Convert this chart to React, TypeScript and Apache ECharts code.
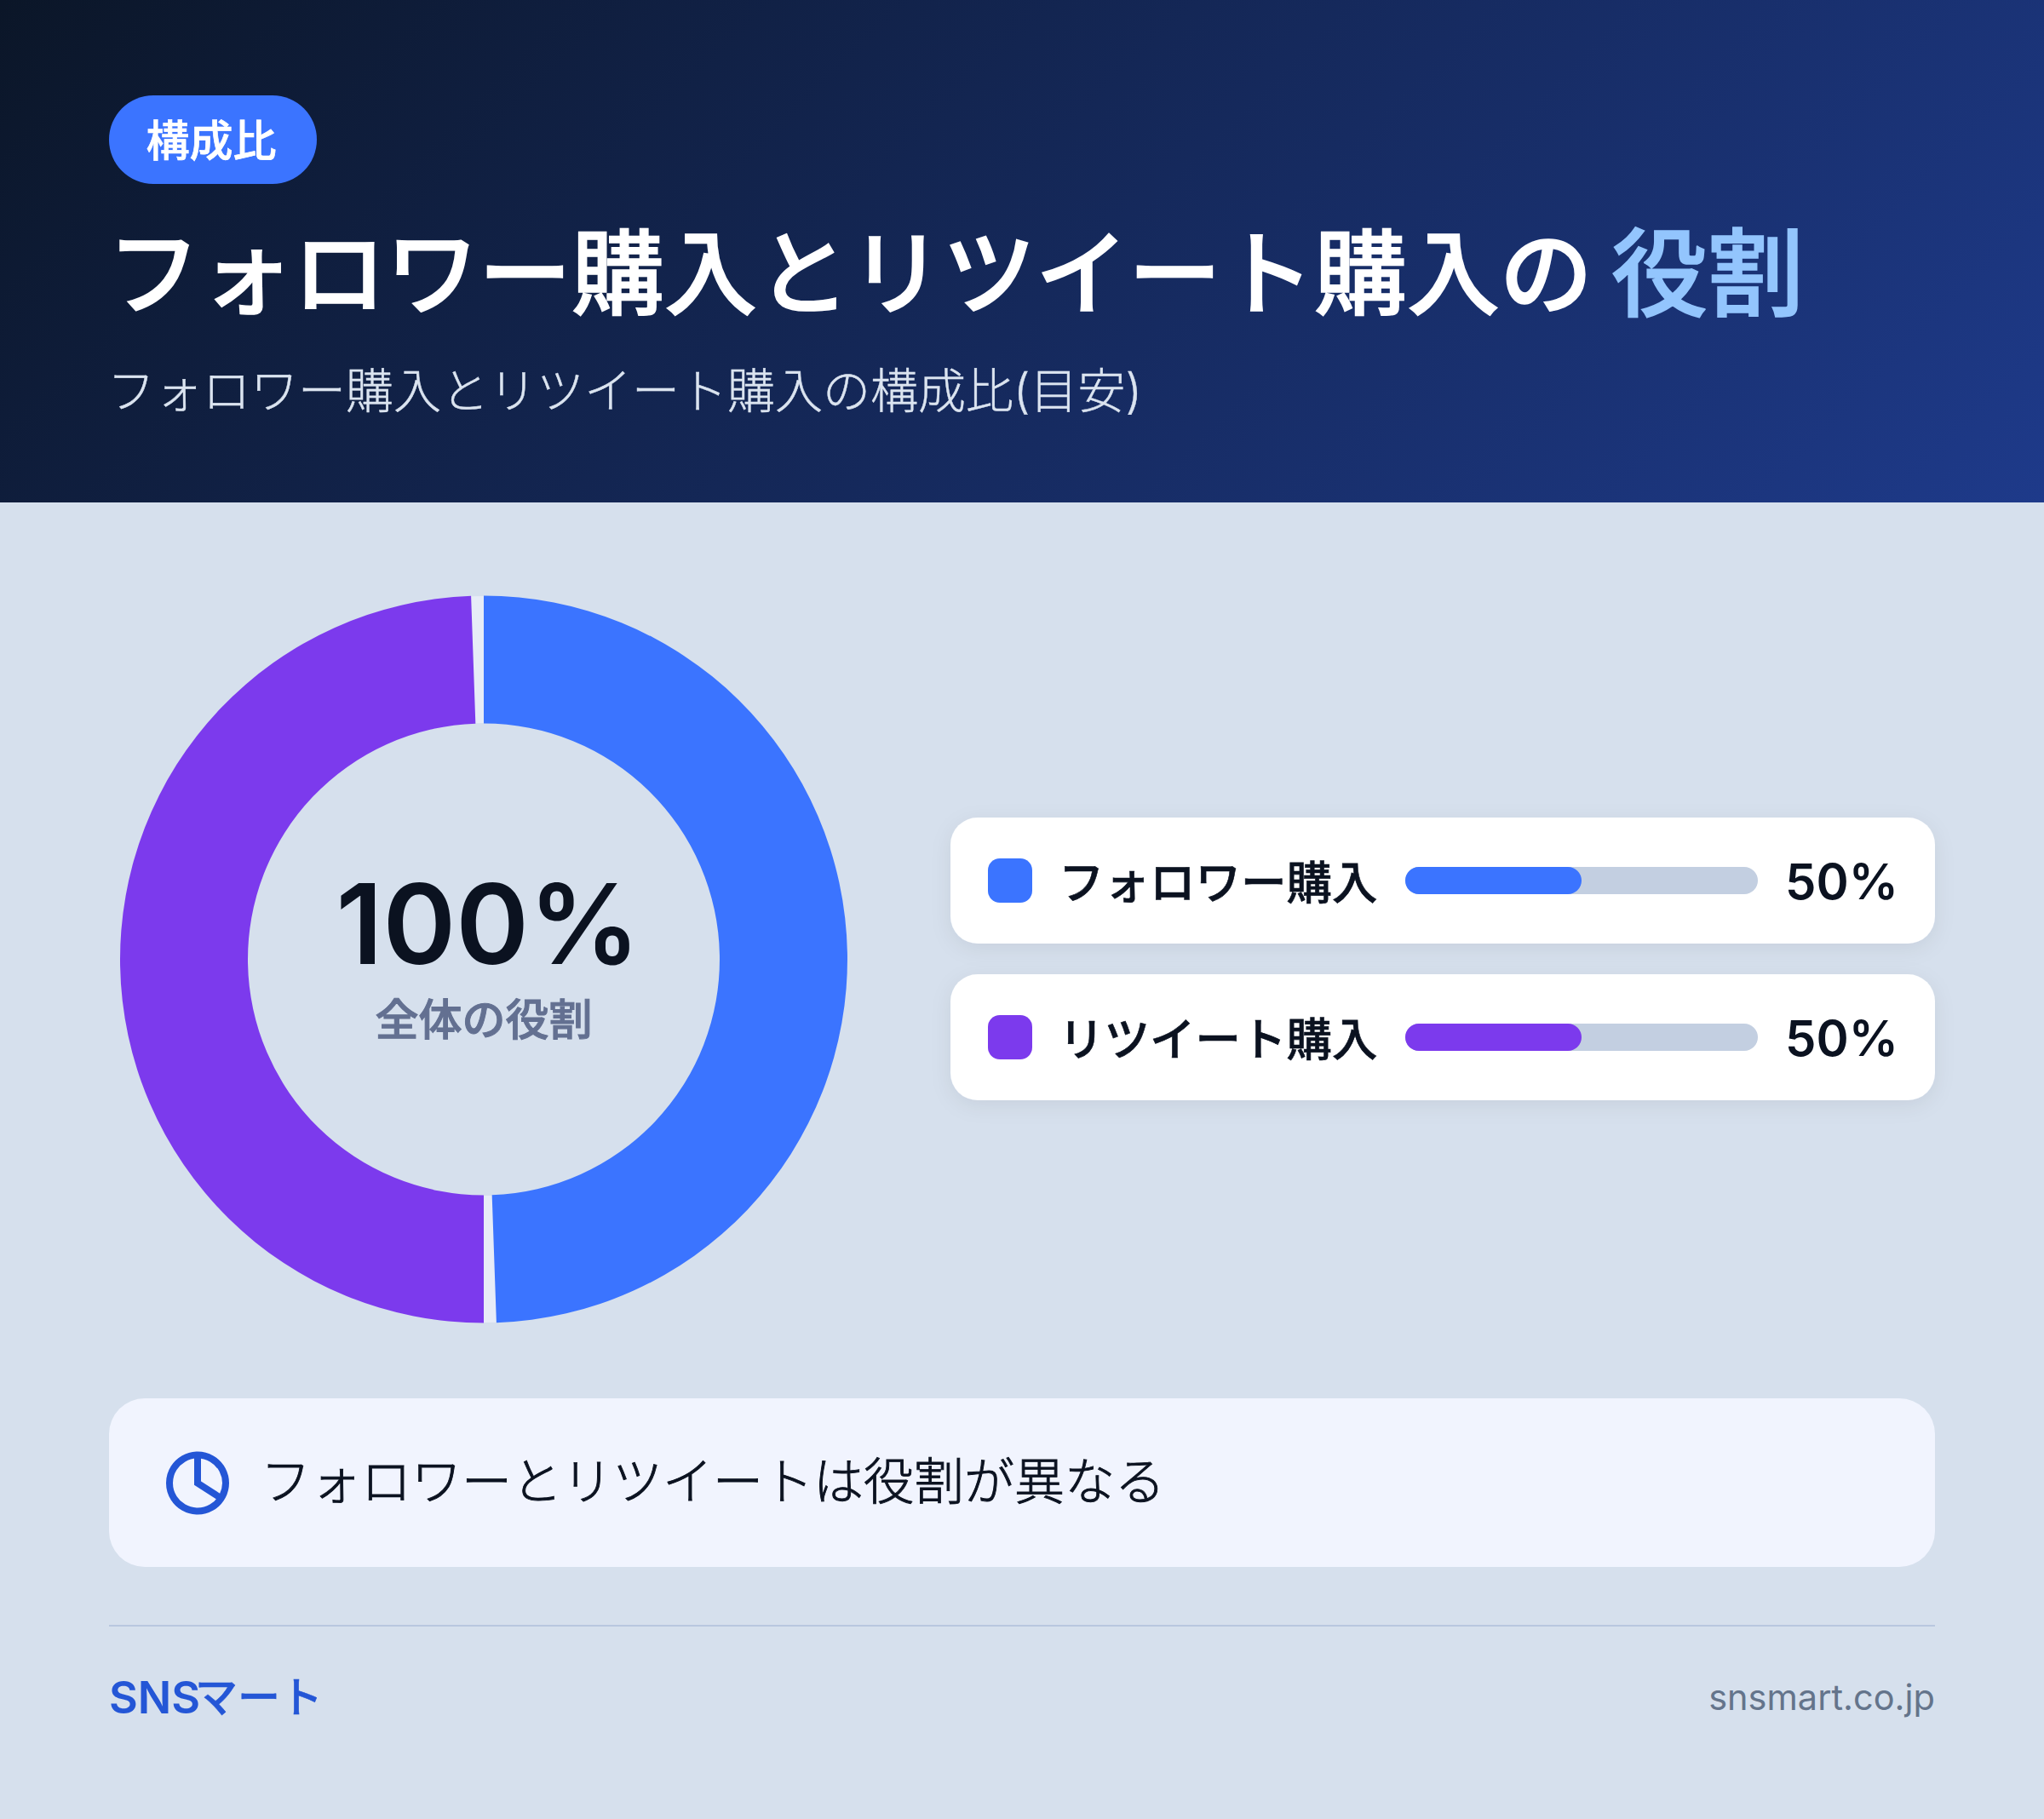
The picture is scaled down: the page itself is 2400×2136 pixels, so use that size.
import { useEffect, useRef } from "react";
import * as echarts from "echarts";

const CATEGORIES = ["フォロワー購入", "リツイート購入"];
const SHARES = [50, 50];
const COLORS = ["#3b74ff", "#7c3aed"];
const BAR_MAX = 100;
const FONT = "Inter, 'Noto Sans CJK JP', sans-serif";
const INK = "#0b1220";
const ROW_TOPS = [960, 1144];

const card = (y: number) => ({
  type: "rect",
  z: 0,
  shape: { x: 1116, y, width: 1156, height: 148, r: 32 },
  style: {
    fill: "#fff",
    shadowBlur: 24,
    shadowOffsetY: 6,
    shadowColor: "rgba(15,23,42,0.07)",
  },
});

// thicken: the CJK font has no medium cut, a thin same-colour stroke stands in for it
const label = (
  text: string,
  x: number,
  y: number,
  fontSize: number,
  fill: string,
  fontWeight: number,
  align = "left",
  thicken = 0,
) => ({
  type: "text",
  z: 3,
  x,
  y,
  style: {
    text,
    fill,
    fontSize,
    fontWeight,
    fontFamily: FONT,
    align,
    verticalAlign: "middle",
    ...(thicken ? { stroke: fill, lineWidth: thicken } : {}),
  },
});

export default function App() {
  const chartRef = useRef<HTMLDivElement>(null);

  useEffect(() => {
    if (!chartRef.current) return;
    const chart = echarts.init(chartRef.current, null, { renderer: "svg" });

    chart.setOption({
      animation: false,
      backgroundColor: "#d6e0ed",
      graphic: [
        {
          type: "rect",
          z: 0,
          shape: { x: 0, y: 0, width: 2400, height: 590 },
          style: {
            fill: new echarts.graphic.LinearGradient(
              453,
              -452,
              1947,
              1042,
              [
                { offset: 0, color: "#0b1628" },
                { offset: 1, color: "#1e3a8a" },
              ],
              true,
            ),
          },
        },
        { type: "rect", z: 0, shape: { x: 128, y: 112, width: 244, height: 104, r: 52 }, style: { fill: COLORS[0] } },
        label("構成比", 248, 165, 51, "#ffffff", 500, "center", 0.7),
        label("フォロワー購入とリツイート購入の", 126, 321, 109, "#ffffff", 500, "left", 1.6),
        label("役割", 1892, 321, 113, "#93c5fd", 500, "left", 1.6),
        label("フォロワー購入とリツイート購入の構成比(目安)", 126, 459, 56, "#dbe4f0", 300, "left", 0.4),

        // donut gap colour + centre
        { type: "ring", z: 1, shape: { cx: 568, cy: 1126.5, r: 426.5, r0: 277.5 }, style: { fill: "#e7ecf7" } },
        label("100%", 573, 1084, 130, INK, 600, "center"),
        label("全体の役割", 568, 1197, 51, "#637091", 500, "center", 1),

        // legend rows
        ...ROW_TOPS.map(card),
        ...ROW_TOPS.flatMap((y, i) => [
          {
            type: "rect",
            z: 1,
            shape: { x: 1160, y: y + 48, width: 52, height: 52, r: 14 },
            style: { fill: COLORS[i] },
          },
          label(CATEGORIES[i], 1243, y + 76, 53.5, INK, 500, "left", 0.6),
          label(`${SHARES[i]}%`, 2229, y + 75, 58, INK, 600, "right"),
        ]),

        // note box
        { type: "rect", z: 0, shape: { x: 128, y: 1642, width: 2144, height: 198, r: 42 }, style: { fill: "#f1f4fe" } },
        {
          type: "circle",
          z: 1,
          shape: { cx: 232, cy: 1741.5, r: 33 },
          style: { fill: "none", stroke: "#2456d6", lineWidth: 8 },
        },
        {
          type: "polyline",
          z: 1,
          shape: { points: [[232, 1708], [232, 1741.5], [259, 1759]] },
          style: { fill: "none", stroke: "#2456d6", lineWidth: 8 },
        },
        label("フォロワーとリツイートは役割が異なる", 306, 1739, 59, INK, 300, "left", 0.9),

        // footer
        { type: "rect", z: 0, shape: { x: 128, y: 1908, width: 2144, height: 2 }, style: { fill: "#b9c7df" } },
        label("SNS", 128, 1993, 52, "#2456d6", 600),
        label("マート", 229, 1993, 50, "#2456d6", 500, "left", 0.5),
        label("snsmart.co.jp", 2272, 1993, 41.5, "#64748b", 400, "right"),
      ],
      grid: { left: 1650, width: 414, top: 942, height: 368 },
      xAxis: { type: "value", min: 0, max: BAR_MAX, show: false },
      yAxis: { type: "category", data: CATEGORIES, inverse: true, show: false },
      series: [
        {
          type: "pie",
          z: 2,
          silent: true,
          center: [568, 1126.5],
          radius: [277, 427],
          startAngle: 91,
          padAngle: 2,
          label: { show: false },
          labelLine: { show: false },
          data: CATEGORIES.map((name, i) => ({
            name,
            value: SHARES[i],
            itemStyle: { color: COLORS[i] },
          })),
        },
        {
          type: "bar",
          z: 2,
          silent: true,
          barWidth: 32,
          showBackground: true,
          backgroundStyle: { color: "#c3cfe1", borderRadius: 16 },
          itemStyle: { borderRadius: 16 },
          data: SHARES.map((value, i) => ({ value, itemStyle: { color: COLORS[i] } })),
        },
      ],
    });

    return () => chart.dispose();
  }, []);

  return (
    <div
      ref={chartRef}
      style={{ position: "absolute", left: 0, top: 0, width: 2400, height: 2136 }}
    />
  );
}
